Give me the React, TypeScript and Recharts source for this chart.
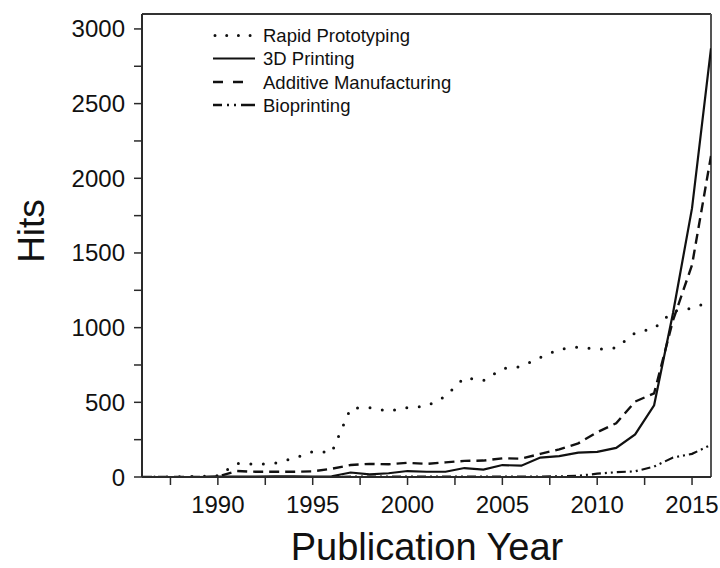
import React from 'react';
import { LineChart, Line, XAxis, YAxis, ReferenceLine, Legend } from 'recharts';

const years = [1986, 1987, 1988, 1989, 1990, 1991, 1992, 1993, 1994, 1995, 1996, 1997, 1998, 1999, 2000, 2001, 2002, 2003, 2004, 2005, 2006, 2007, 2008, 2009, 2010, 2011, 2012, 2013, 2014, 2015, 2016];
const rapidPrototyping = [0, 0, 2, 3, 8, 90, 85, 92, 125, 170, 165, 460, 465, 440, 465, 475, 540, 665, 645, 725, 740, 800, 855, 870, 855, 865, 965, 995, 1110, 1130, 1175];
const printing3D = [0, 0, 0, 0, 2, 3, 3, 4, 4, 3, 5, 30, 18, 25, 40, 35, 35, 60, 50, 80, 76, 130, 140, 163, 168, 195, 285, 480, 1100, 1800, 2870];
const additiveManufacturing = [0, 0, 0, 0, 3, 40, 35, 35, 35, 38, 55, 80, 88, 85, 95, 88, 98, 108, 110, 125, 123, 155, 185, 225, 300, 360, 505, 560, 1050, 1420, 2150];
const bioprinting = [0, 0, 0, 0, 0, 0, 0, 0, 0, 0, 0, 2, 2, 2, 2, 2, 2, 2, 2, 3, 3, 3, 4, 8, 22, 32, 38, 70, 130, 155, 215];

const seriesNames = ['Rapid Prototyping', '3D Printing', 'Additive Manufacturing', 'Bioprinting'];
const xTicks = [1987.5, 1990, 1992.5, 1995, 1997.5, 2000, 2002.5, 2005, 2007.5, 2010, 2012.5, 2015];
const xLabelTicks = [1990, 1995, 2000, 2005, 2010, 2015];
const yTicks = [0, 250, 500, 750, 1000, 1250, 1500, 1750, 2000, 2250, 2500, 2750, 3000];
const yLabelTicks = [0, 500, 1000, 1500, 2000, 2500, 3000];

const data = years.map((year, i) => ({
  year,
  rp: rapidPrototyping[i],
  p3d: printing3D[i],
  am: additiveManufacturing[i],
  bio: bioprinting[i],
}));

const FONT = '"Liberation Sans", Arial, Helvetica, sans-serif';
const INK = '#111';
const AXIS = '#2a2a2a';

const XTick = (props: any) => {
  const { x, payload } = props;
  if (!xLabelTicks.includes(payload.value)) return <g />;
  return (
    <text x={x} y={513} textAnchor="middle" fontSize={24} fontFamily={FONT} fill={INK}>
      {payload.value}
    </text>
  );
};

const YTick = (props: any) => {
  const { y, payload } = props;
  if (!yLabelTicks.includes(payload.value)) return <g />;
  return (
    <text x={125} y={y + 8.5} textAnchor="end" fontSize={24} fontFamily={FONT} fill={INK}>
      {payload.value}
    </text>
  );
};

const LegendContent = () => {
  const rows = [35.5, 58.5, 82, 105];
  const x0 = 213;
  const textX = 263;
  return (
    <svg width={720} height={130} style={{ display: 'block' }}>
      {/* Rapid Prototyping: dotted */}
      <line x1={x0 + 2} y1={rows[0]} x2={x0 + 38} y2={rows[0]} stroke={INK} strokeWidth={3} strokeDasharray="0 11.7" strokeLinecap="round" />
      {/* 3D Printing: solid */}
      <line x1={x0} y1={rows[1]} x2={x0 + 42} y2={rows[1]} stroke={INK} strokeWidth={2.2} />
      {/* Additive Manufacturing: dashed */}
      <line x1={x0} y1={rows[2]} x2={x0 + 30} y2={rows[2]} stroke={INK} strokeWidth={2.4} strokeDasharray="10 10" />
      {/* Bioprinting: dash dot dot */}
      <line x1={x0} y1={rows[3]} x2={x0 + 42} y2={rows[3]} stroke={INK} strokeWidth={2.4} strokeDasharray="9 5 2 5 2 5 14" />
      {seriesNames.map((n, i) => (
        <text key={n} x={textX} y={rows[i] + 6.5} fontSize={18.5} fontFamily={FONT} fill={INK}>
          {n}
        </text>
      ))}
    </svg>
  );
};

const HitsLabel = () => (
  <text x={31} y={231} transform="rotate(-90 31 231)" textAnchor="middle" dominantBaseline="central" fontSize={37} fontFamily={FONT} fill={INK}>
    Hits
  </text>
);

const YearLabel = () => (
  <text x={427} y={560} textAnchor="middle" fontSize={38} fontFamily={FONT} fill={INK}>
    Publication Year
  </text>
);

export default function App() {
  return (
    <div style={{ position: 'absolute', left: 0, top: 0, width: 720, height: 568, background: '#fff' }}>
      <LineChart width={720} height={568} data={data} margin={{ top: 14, right: 9, bottom: 0, left: 0 }}>
        <XAxis
          dataKey="year"
          type="number"
          domain={[1986, 2016]}
          ticks={xTicks}
          interval={0}
          height={91}
          tick={<XTick />}
          tickSize={8}
          axisLine={{ stroke: AXIS, strokeWidth: 2 }}
          tickLine={{ stroke: AXIS, strokeWidth: 1.5 }}
          label={<YearLabel />}
          allowDataOverflow
        />
        <YAxis
          type="number"
          domain={[0, 3100]}
          ticks={yTicks}
          interval={0}
          width={142}
          tick={<YTick />}
          tickSize={8}
          axisLine={{ stroke: AXIS, strokeWidth: 2 }}
          tickLine={{ stroke: AXIS, strokeWidth: 1.5 }}
          label={<HitsLabel />}
          allowDataOverflow
        />
        <ReferenceLine y={3100} stroke="#333" strokeWidth={2} />
        <ReferenceLine x={2016} stroke="#555" strokeWidth={2} />
        <Legend layout="vertical" align="center" verticalAlign="middle" content={<LegendContent />} wrapperStyle={{ left: 0, top: 0, width: 720, height: 130, pointerEvents: 'none' }} />
        <Line type="linear" dataKey="rp" name={seriesNames[0]} stroke={INK} strokeWidth={3} strokeDasharray="0 12.5" strokeLinecap="round" dot={false} activeDot={false} isAnimationActive={false} />
        <Line type="linear" dataKey="p3d" name={seriesNames[1]} stroke={INK} strokeWidth={2.2} dot={false} activeDot={false} isAnimationActive={false} />
        <Line type="linear" dataKey="am" name={seriesNames[2]} stroke={INK} strokeWidth={2.4} strokeDasharray="10 6" dot={false} activeDot={false} isAnimationActive={false} />
        <Line type="linear" dataKey="bio" name={seriesNames[3]} stroke={INK} strokeWidth={2.2} strokeDasharray="9 4 2 4 2 4" dot={false} activeDot={false} isAnimationActive={false} />
      </LineChart>
    </div>
  );
}
